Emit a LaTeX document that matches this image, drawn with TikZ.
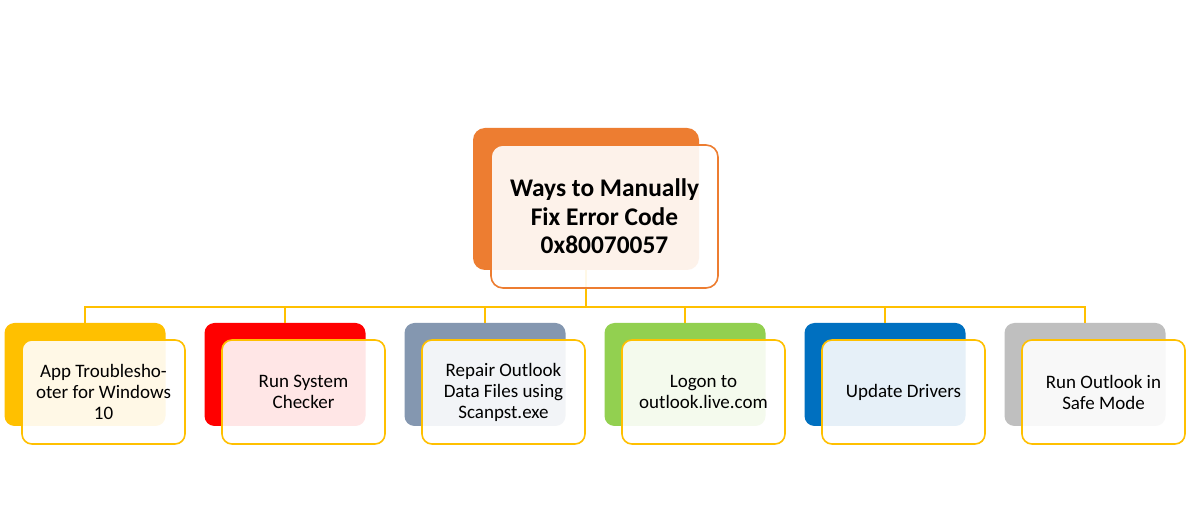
\documentclass[tikz,border=0pt]{standalone}
\usepackage{fontspec}
\setmainfont{Carlito}
\usetikzlibrary{calc}
\definecolor{orng}{HTML}{ED7D31}
\definecolor{gold}{HTML}{FFC000}
\definecolor{cA}{HTML}{FFC000}
\definecolor{cB}{HTML}{FF0000}
\definecolor{cC}{HTML}{8497B0}
\definecolor{cD}{HTML}{92D050}
\definecolor{cE}{HTML}{0070C0}
\definecolor{cF}{HTML}{BFBFBF}
\tikzset{
  backbox/.style={draw=none, rounded corners=10pt, inner sep=0pt, outer sep=0pt,
    minimum width=161pt, minimum height=103pt},
  frontbox/.style={draw=gold, line width=1.6pt, fill=white, fill opacity=0.9, text opacity=1,
    rounded corners=10pt, inner sep=0pt, outer sep=0pt, minimum width=163pt, minimum height=104pt,
    align=center, font=\fontsize{19}{21}\selectfont},
  topback/.style={draw=none, fill=orng, rounded corners=12pt, inner sep=0pt, outer sep=0pt,
    minimum width=226pt, minimum height=142pt},
  topfront/.style={draw=orng, line width=1.6pt, fill=white, fill opacity=0.9, text opacity=1,
    rounded corners=12pt, inner sep=0pt, outer sep=0pt, minimum width=227pt, minimum height=143pt,
    align=center, font=\fontsize{25.4}{28.5}\selectfont\bfseries},
  conn/.style={draw=gold, line width=1.6pt}
}
\begin{document}
\begin{tikzpicture}[x=1pt,y=1pt]
\useasboundingbox (0,0) rectangle (1200,530);
\fill[white] (0,0) rectangle (1200,530);
% top back box
\node[topback] (tb) at (586,331) {};
% bottom back boxes
\node[backbox, fill=cA] (b1) at (85,155.5) {};
\node[backbox, fill=cB] (b2) at (285,155.5) {};
\node[backbox, fill=cC] (b3) at (485,155.5) {};
\node[backbox, fill=cD] (b4) at (685,155.5) {};
\node[backbox, fill=cE] (b5) at (885,155.5) {};
\node[backbox, fill=cF] (b6) at (1085,155.5) {};
% connectors
\coordinate (bus) at (586,223);
\draw[conn] (tb.south) -- (bus);
\foreach \k in {1,...,6} {\draw[conn] (bus) -| (b\k.north);}
% front boxes
\node[topfront] (tf) at (604.5,313.5) {Ways to Manually\\Fix Error Code\\0x80070057};
\node[frontbox] (f1) at (103.5,138) {App Troublesho-\\oter for Windows\\10};
\node[frontbox] (f2) at (303.5,138) {Run System\\Checker};
\node[frontbox] (f3) at (503.5,138) {Repair Outlook\\Data Files using\\Scanpst.exe};
\node[frontbox] (f4) at (703.5,138) {Logon to\\outlook.live.com};
\node[frontbox] (f5) at (903.5,138) {Update Drivers};
\node[frontbox] (f6) at (1103.5,138) {Run Outlook in\\Safe Mode};
\end{tikzpicture}
\end{document}
